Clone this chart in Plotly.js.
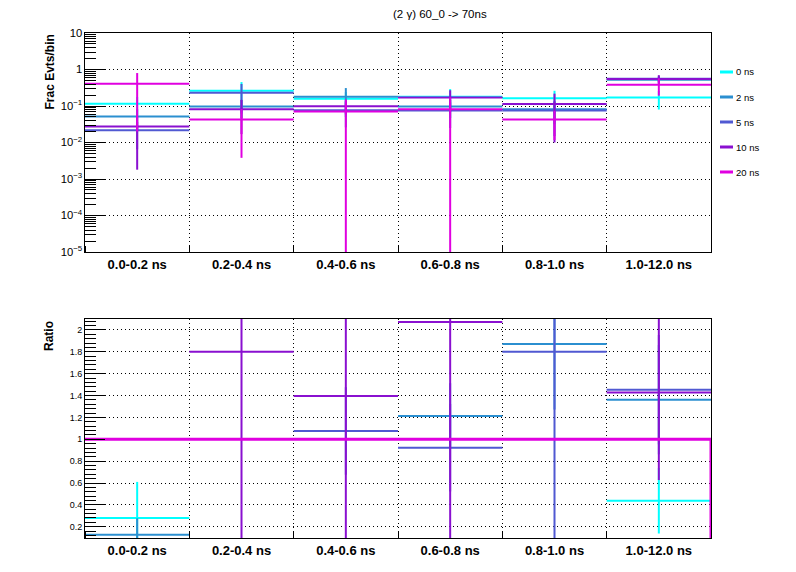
<!DOCTYPE html>
<html><head><meta charset="utf-8">
<script src="https://cdn.plot.ly/plotly-3.0.1.min.js"></script>
<style>html,body{margin:0;padding:0;background:#fff}#chart{width:796px;height:572px}</style>
</head><body><div id="chart"></div>
<script>
// ---------- data ----------
const categories = ['0.0-0.2 ns','0.2-0.4 ns','0.4-0.6 ns','0.6-0.8 ns','0.8-1.0 ns','1.0-12.0 ns'];
const seriesNames = ['0 ns','2 ns','5 ns','10 ns','20 ns'];
const seriesColors = ['#00ffff','#2b8fd0','#5059d2','#8a10d0','#e000e0'];

// top panel: fraction of events per bin, with errors
const frac0     = [0.116, 0.262, 0.159, 0.180, 0.163, 0.170];
const fracErr0  = [0.06, 0.19, 0.08, 0.11, 0.098, 0.09];
const frac2     = [0.0516, 0.0966, 0.180, 0.097, 0.0817, 0.523];
const fracErr2  = [0.03, 0.05, 0.13, 0.05, 0.05, 0.10];
const frac5     = [0.0215, 0.232, 0.076, 0.075, 0.075, 0.558];
const fracErr5  = [0.015, 0.17, 0.05, 0.05, 0.06, 0.10];
const frac10    = [0.0276, 0.082, 0.0988, 0.170, 0.114, 0.545];
const fracErr10 = [0.0258, 0.065, 0.04, 0.10, 0.104, 0.155];
const frac20    = [0.41, 0.0428, 0.0706, 0.082, 0.0427, 0.382];
const fracErr20 = [0.39, 0.039, 0.08, 0.09, 0.031, 0.19];

// bottom panel: ratio to 20 ns (null = outside the drawn range)
const ratio0     = [0.28, null, null, null, null, 0.438];
const ratioErr0  = [0.33, null, null, null, null, 0.30];
const ratio2     = [0.127, null, null, 1.213, 1.872, 1.362];
const ratioErr2  = [0.15, null, null, 0.3, 0.6, 0.5];
const ratio5     = [null, null, 1.076, 0.923, 1.80, 1.454];
const ratioErr5  = [null, null, 0.4, 0.4, 2.0, 0.5];
const ratio10    = [null, 1.80, 1.396, 2.073, null, 1.427];
const ratioErr10 = [null, 1.9, 1.5, 2.2, null, 0.8];
const ratio20    = [1, 1, 1, 1, 1, 1];

// ---------- geometry ----------
const W = 796, H = 572;
const L = 85, R = 711;           // plot frame x
const T1 = 33, B1 = 252;         // top panel
const T2 = 319, B2 = 538;        // bottom panel
const plotH = B2 - T1;
const pY = y => (B2 - y) / plotH;
const pX = x => (x - L) / (R - L);

const nb = categories.length;
const centers = categories.map((c, i) => i + 0.5);
const edges = Array.from({length: nb + 1}, (_, i) => i);

const fontFam = '"Liberation Sans", Arial, Helvetica, sans-serif';
const gridDash = '1px,3px';

function binTrace(vals, errs, color, xa, ya) {
  return {
    type: 'scatter', mode: 'markers', x: centers, y: vals, xaxis: xa, yaxis: ya,
    marker: {size: 1, color: 'rgba(0,0,0,0)'},
    error_y: {type: 'data', array: errs, symmetric: true, visible: true, width: 0, thickness: 2, color: color},
    error_x: {type: 'constant', value: 0.5, visible: true, width: 0, thickness: 2, color: color},
    hoverinfo: 'skip', showlegend: false
  };
}

const topData = [[frac0, fracErr0], [frac2, fracErr2], [frac5, fracErr5], [frac10, fracErr10], [frac20, fracErr20]];
const ratioData = [[ratio0, ratioErr0], [ratio2, ratioErr2], [ratio5, ratioErr5], [ratio10, ratioErr10]];

const traces = [];
topData.forEach((d, i) => traces.push(binTrace(d[0], d[1], seriesColors[i], 'x', 'y')));
ratioData.forEach((d, i) => traces.push(binTrace(d[0], d[1], seriesColors[i], 'x2', 'y2')));
// 20 ns ratio drawn as a histogram outline (steps, dropping to zero at the last edge)
traces.push({
  type: 'scatter', mode: 'lines', xaxis: 'x2', yaxis: 'y2',
  x: edges.concat([edges[nb]]),
  y: ratio20.concat([ratio20[nb - 1], 0]),
  line: {shape: 'hv', color: seriesColors[4], width: 3},
  hoverinfo: 'skip', showlegend: false
});

const xaxisBase = {
  range: [0, nb], tickmode: 'array', tickvals: centers, ticktext: categories,
  ticks: '', showgrid: false, zeroline: false,
  showline: true, mirror: true, linecolor: '#000', linewidth: 1,
  tickfont: {family: fontFam, size: 13, color: '#000', weight: 'bold'},
  minor: {tickmode: 'array', tickvals: edges, ticks: 'inside', ticklen: 6, tickcolor: '#000', tickwidth: 1,
          showgrid: true, gridcolor: '#000', gridwidth: 1, griddash: gridDash},
  fixedrange: true
};

const layout = {
  width: W, height: H,
  margin: {l: L, r: W - R, t: T1, b: H - B2, pad: 0},
  paper_bgcolor: '#fff', plot_bgcolor: '#fff',
  showlegend: false,
  title: {text: '(2 γ) 60_0 -> 70ns', font: {family: fontFam, size: 11.5, color: '#000'},
          xref: 'container', yref: 'container', x: 393 / W, xanchor: 'left', y: 1 - 14 / H, yanchor: 'middle'},
  xaxis: Object.assign({}, xaxisBase, {anchor: 'y', domain: [0, 1]}),
  xaxis2: Object.assign({}, xaxisBase, {anchor: 'y2', domain: [0, 1]}),
  yaxis: {
    domain: [pY(B1), 1], anchor: 'x', type: 'log', range: [-5, 1],
    tickmode: 'linear', tick0: 0, dtick: 1, exponentformat: 'power',
    ticks: 'inside', ticklen: 20, tickcolor: '#000', tickwidth: 1,
    showgrid: true, gridcolor: '#000', gridwidth: 1, griddash: gridDash, zeroline: false,
    showline: true, mirror: true, linecolor: '#000', linewidth: 1,
    tickfont: {family: fontFam, size: 9, color: '#000'},
    minor: {dtick: 'D1', ticks: 'inside', ticklen: 11, tickcolor: '#000', tickwidth: 1, showgrid: false},
    fixedrange: true
  },
  yaxis2: {
    domain: [0, pY(T2)], anchor: 'x2', range: [0.097, 2.1],
    tickmode: 'linear', tick0: 0, dtick: 0.2,
    ticks: 'inside', ticklen: 20, tickcolor: '#000', tickwidth: 1,
    showgrid: true, gridcolor: '#000', gridwidth: 1, griddash: gridDash, zeroline: false,
    showline: true, mirror: true, linecolor: '#000', linewidth: 1,
    tickfont: {family: fontFam, size: 9, color: '#000'},
    minor: {tick0: 0, dtick: 0.04, ticks: 'inside', ticklen: 11, tickcolor: '#000', tickwidth: 1, showgrid: false},
    fixedrange: true
  },
  annotations: [
    {text: 'Frac Evts/bin', textangle: -90, xref: 'paper', yref: 'paper', x: pX(49), y: 1,
     xanchor: 'center', yanchor: 'top', showarrow: false,
     font: {family: fontFam, size: 12, color: '#000', weight: 'bold'}},
    {text: 'Ratio', textangle: -90, xref: 'paper', yref: 'paper', x: pX(49), y: pY(T2),
     xanchor: 'center', yanchor: 'top', showarrow: false,
     font: {family: fontFam, size: 12, color: '#000', weight: 'bold'}}
  ],
  shapes: []
};

// legend (line sample + label) at the right of the top panel
const legY = [72, 97, 122, 147, 172];
seriesNames.forEach((name, i) => {
  layout.shapes.push({type: 'line', xref: 'paper', yref: 'paper',
    x0: pX(720), x1: pX(733), y0: pY(legY[i]), y1: pY(legY[i]),
    line: {color: seriesColors[i], width: 3}});
  layout.annotations.push({text: name, xref: 'paper', yref: 'paper', x: pX(734), y: pY(legY[i]),
    xanchor: 'left', yanchor: 'middle', showarrow: false,
    font: {family: fontFam, size: 9.5, color: '#000'}});
});

Plotly.newPlot('chart', traces, layout, {displayModeBar: false, staticPlot: true});
</script>
</body></html>
